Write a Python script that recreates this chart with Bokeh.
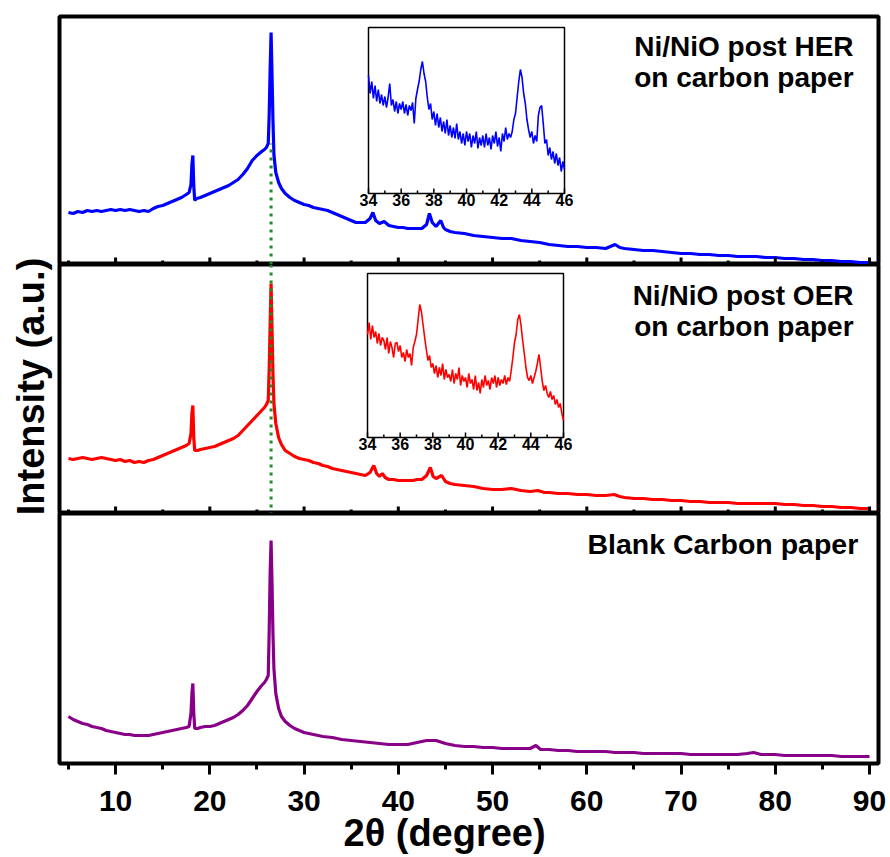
import math
from bokeh.plotting import figure
from bokeh.models import Range1d, SingleIntervalTicker, Label, Span, Title
from bokeh.layouts import column, row
from bokeh.embed import file_html
from bokeh.resources import INLINE
from bokeh.core.properties import value

# ---------------- data (intensity in arbitrary units) ----------------
her_x = [5, 5.5, 6, 6.5, 7, 7.5, 8, 8.5, 9, 9.5,
         10, 10.5, 11, 11.5, 12, 12.5, 13, 13.5, 14, 14.5,
         15, 15.5, 16, 16.5, 17, 17.5, 17.8, 18.0, 18.1, 18.2,
         18.3, 18.4, 18.6, 19, 19.5, 20, 20.5, 21, 21.5, 22,
         22.5, 23, 23.5, 24, 24.5, 25, 25.5, 25.8, 26.0, 26.2,
         26.3, 26.4, 26.5, 26.6, 26.7, 26.8, 27.0, 27.3, 27.6, 28,
         28.5, 29, 29.5, 30, 30.5, 31, 31.5, 32, 32.5, 33,
         33.5, 34, 34.5, 35, 35.5, 36, 36.5, 37, 37.3, 37.6,
         38, 38.5, 39, 39.5, 40, 40.5, 41, 41.5, 42, 42.5,
         43, 43.3, 43.6, 44, 44.5, 44.8, 45, 45.5, 46, 47,
         48, 49, 50, 51, 52, 53, 54, 55, 56, 57,
         58, 59, 60, 61, 62, 63, 63.5, 64, 65, 66,
         67, 68, 69, 70, 71, 72, 73, 74, 75, 76,
         77, 78, 79, 80, 81, 82, 83, 84, 85, 86,
         87, 88, 89, 90]
her_y = [52, 51, 53, 52, 54, 53, 54, 53, 54, 55,
         54, 55, 54, 55, 54, 53, 54, 53, 56, 58,
         59, 61, 63, 65, 67, 70, 72, 80, 100, 109,
         78, 64, 66, 67, 69, 71, 73, 75, 77, 79,
         82, 85, 90, 96, 104, 109, 113, 115, 117, 121,
         150, 195, 232, 190, 144, 110, 92, 82, 76, 71,
         67, 64, 62, 60, 59, 57, 56, 55, 54, 52,
         50, 48, 46, 44, 42, 42, 42, 46, 52, 44,
         41, 43, 39, 38, 37, 37, 36, 36, 36, 36,
         40, 51, 42, 38, 44, 37, 35, 33, 32, 31,
         29, 28, 27, 26, 26, 24, 23, 22, 20, 19,
         18, 18, 17, 17, 16, 20, 17, 16, 15, 14,
         14, 13, 12, 11, 11, 10, 10, 9, 9, 8,
         8, 8, 7, 7, 6, 6, 5, 5, 4, 4,
         3, 3, 2, 2]

oer_x = [5, 5.5, 6, 6.5, 7, 7.5, 8, 8.5, 9, 9.5,
         10, 10.5, 11, 11.5, 12, 12.5, 13, 13.5, 14, 14.5,
         15, 15.5, 16, 16.5, 17, 17.5, 17.8, 18.0, 18.1, 18.2,
         18.3, 18.4, 18.7, 19, 19.5, 20, 20.5, 21, 21.5, 22,
         22.5, 23, 23.5, 24, 24.5, 25, 25.5, 25.8, 26.0, 26.2,
         26.3, 26.4, 26.5, 26.6, 26.7, 26.8, 27.0, 27.3, 27.6, 28,
         28.5, 29, 29.5, 30, 30.5, 31, 31.5, 32, 32.5, 33,
         33.5, 34, 34.5, 35, 35.5, 36, 36.5, 37, 37.4, 37.7,
         38, 38.3, 38.6, 39, 39.5, 40, 40.5, 41, 41.5, 42,
         42.5, 43, 43.4, 43.7, 44, 44.6, 45, 45.5, 46, 47,
         48, 49, 50, 51, 52, 53, 54, 54.8, 55.5, 56,
         57, 58, 59, 60, 61, 62, 62.9, 63.5, 64, 65,
         66, 67, 68, 69, 70, 71, 72, 73, 74, 75,
         76, 77, 78, 79, 80, 81, 82, 83, 84, 85,
         86, 87, 88, 89, 90]
oer_y = [55, 54, 55, 56, 55, 54, 55, 56, 55, 54,
         53, 54, 52, 53, 51, 52, 51, 53, 54, 56,
         58, 60, 62, 64, 66, 68, 70, 80, 100, 108,
         75, 63, 63, 64, 65, 66, 67, 69, 71, 73,
         75, 78, 83, 88, 93, 98, 103, 106, 109, 113,
         145, 190, 230, 185, 140, 110, 90, 76, 69, 63,
         60, 57, 55, 54, 53, 51, 50, 48, 47, 45,
         44, 43, 42, 41, 40, 39, 38, 41, 48, 40,
         37, 40, 36, 34, 34, 33, 33, 33, 33, 34,
         34, 38, 46, 37, 35, 38, 32, 30, 29, 28,
         27, 25, 24, 24, 25, 23, 22, 23, 21, 21,
         20, 20, 19, 19, 18, 18, 19, 17, 16, 15,
         15, 14, 14, 13, 13, 12, 12, 11, 11, 11,
         10, 10, 10, 10, 10, 9, 9, 8, 8, 7,
         7, 6, 6, 5, 5]

blank_x = [5, 5.5, 6, 6.5, 7, 7.5, 8, 8.5, 9, 9.5,
           10, 10.5, 11, 11.5, 12, 12.5, 13, 13.5, 14, 14.5,
           15, 15.5, 16, 16.5, 17, 17.5, 17.8, 18.0, 18.1, 18.2,
           18.3, 18.4, 18.7, 19, 19.5, 20, 20.5, 21, 21.5, 22,
           22.5, 23, 23.5, 24, 24.5, 25, 25.5, 25.8, 26.0, 26.2,
           26.3, 26.4, 26.5, 26.6, 26.7, 26.8, 27.0, 27.3, 27.6, 28,
           28.5, 29, 29.5, 30, 30.5, 31, 31.5, 32, 33, 34,
           35, 36, 37, 38, 39, 40, 41, 42, 43, 44,
           45, 46, 47, 48, 49, 50, 51, 52, 53, 54,
           54.6, 55.1, 56, 57, 58, 59, 60, 61, 62, 63,
           64, 65, 66, 67, 68, 69, 70, 71, 72, 73,
           74, 75, 76, 77, 77.7, 78.5, 79, 80, 81, 82,
           83, 84, 85, 86, 87, 88, 89, 90]
blank_y = [47, 44, 42, 40, 39, 37, 36, 35, 33, 32,
           31, 30, 29, 29, 28, 28, 28, 28, 29, 30,
           31, 32, 33, 34, 35, 36, 37, 50, 70, 80,
           50, 35, 35, 36, 37, 37, 38, 40, 42, 44,
           46, 49, 53, 58, 65, 72, 78, 81, 84, 88,
           133, 190, 223, 180, 130, 95, 70, 55, 47, 42,
           38, 35, 33, 31, 30, 29, 28, 27, 26, 24,
           23, 22, 21, 20, 19, 19, 19, 21, 23, 23,
           20, 18, 17, 17, 16, 16, 15, 15, 15, 15,
           18, 14, 14, 13, 13, 12, 12, 12, 12, 11,
           11, 11, 10, 10, 10, 10, 10, 9, 9, 9,
           9, 9, 9, 10, 11, 9, 9, 9, 8, 8,
           8, 8, 8, 8, 7, 7, 7, 7]

# inset scans (34-46 deg, 0.1 deg step)
her_inset_y = [118, 100, 112, 95, 108, 92, 104, 90, 99, 88,
               97, 86, 96, 110, 88, 94, 82, 92, 80, 90,
               84, 92, 80, 89, 78, 88, 83, 91, 70, 95,
               104, 112, 124, 132, 120, 112, 96, 84, 90, 74,
               82, 68, 80, 66, 76, 62, 72, 60, 74, 58,
               68, 56, 66, 55, 70, 54, 62, 50, 60, 48,
               62, 52, 60, 46, 58, 50, 62, 45, 56, 48,
               58, 46, 60, 48, 56, 44, 58, 50, 62, 47,
               56, 42, 60, 52, 66, 54, 60, 56, 62, 74,
               80, 96, 112, 124, 116, 100, 90, 74, 64, 56,
               62, 50, 58, 52, 78, 86, 88, 70, 50, 54,
               38, 46, 34, 42, 30, 40, 28, 36, 22, 32,
               24]
oer_inset_y = [103, 115, 98, 112, 100, 106, 94, 104, 92, 100,
               97, 88, 100, 84, 96, 90, 80, 94, 95, 86,
               92, 80, 85, 76, 88, 80, 84, 72, 90, 96,
               103, 118, 133, 126, 113, 100, 88, 77, 82, 70,
               74, 64, 72, 60, 70, 62, 74, 58, 68, 60,
               63, 56, 68, 54, 64, 58, 70, 52, 62, 56,
               60, 50, 64, 54, 58, 48, 62, 47, 55, 44,
               58, 50, 62, 52, 57, 48, 60, 54, 62, 50,
               60, 52, 58, 54, 62, 53, 60, 56, 67, 80,
               95, 103, 118, 123, 112, 97, 84, 70, 60, 57,
               62, 54, 60, 66, 74, 83, 70, 56, 47, 52,
               44, 40, 46, 38, 42, 33, 38, 30, 34, 24,
               17]
inset_x = [round(34 + 0.1 * i, 1) for i in range(len(her_inset_y))]

inset_major = [34, 36, 38, 40, 42, 44, 46]
inset_minor = [35, 37, 39, 41, 43, 45]
inset_labels = ["34", "36", "38", "40", "42", "44", "46"]

main_major = [10, 20, 30, 40, 50, 60, 70, 80, 90]
main_minor = [5, 15, 25, 35, 45, 55, 65, 75, 85]

graphite_peak = 26.5      # 2theta of the dotted reference line
ref_line_top = 121        # where the dotted line starts in the top panel

labels_her = ["Ni/NiO post HER", "on carbon paper"]
labels_oer = ["Ni/NiO post OER", "on carbon paper"]
label_blank = "Blank Carbon paper"
x_title = "2\u03b8 (degree)"
y_title = "Intensity (a.u.)"

# ---------------- styling / layout ----------------
FONT = "Liberation Sans"
FRAME_W = 819
YLAB_W = 55
B_LEFT = 4
B_RIGHT = 10
XR = Range1d(4.05, 90.95)
GREEN = "#228B22"


def base_fig(frame_h, top, bottom, xloc):
    p = figure(frame_width=FRAME_W, frame_height=frame_h, x_range=XR,
               y_range=Range1d(0, frame_h), output_backend="svg",
               toolbar_location=None, min_border_left=B_LEFT,
               min_border_right=B_RIGHT, min_border_top=top,
               min_border_bottom=bottom, x_axis_location=xloc,
               y_axis_location=None)
    p.xgrid.visible = False
    p.ygrid.visible = False
    p.outline_line_color = "black"
    p.outline_line_width = 4
    p.outline_line_alpha = 1
    p.background_fill_color = "white"
    p.border_fill_color = "white"
    return p


def inner_ticks(p):
    # ticks along the panel separator, pointing into the panel
    p.segment(x0=main_major, y0=[0] * len(main_major), x1=main_major,
              y1=[7] * len(main_major), line_color="black", line_width=3)
    p.segment(x0=main_minor, y0=[0] * len(main_minor), x1=main_minor,
              y1=[4] * len(main_minor), line_color="black", line_width=3)


def add_inset(p, frame_h, box, ys, color):
    l, r, t, b = box
    ih = frame_h - t - b
    x0, x1 = inset_major[0], inset_major[-1]
    sx = (r - l) / (x1 - x0)
    p.extra_x_ranges = {"ins": Range1d(x0 - l / sx, x1 + (FRAME_W - r) / sx)}
    p.extra_y_ranges = {"ins": Range1d(-b, ih + t)}
    kw = dict(x_range_name="ins", y_range_name="ins")
    p.quad(left=[x0], right=[x1], bottom=[0], top=[ih], fill_color="white",
           line_color="black", line_width=1.5, **kw)
    p.line(inset_x, ys, line_color=color, line_width=1.6, **kw)
    p.segment(x0=inset_major, y0=[0] * len(inset_major), x1=inset_major,
              y1=[5] * len(inset_major), line_color="black", line_width=1.5, **kw)
    p.segment(x0=inset_minor, y0=[0] * len(inset_minor), x1=inset_minor,
              y1=[3] * len(inset_minor), line_color="black", line_width=1.5, **kw)
    p.text(x=inset_major, y=[0] * len(inset_major), text=inset_labels,
           text_align="center", text_baseline="top", y_offset=0,
           text_font=value(FONT), text_font_style="bold", text_font_size="16px",
           text_color="black", **kw)


def add_label(p, text, x, y, size="28px"):
    p.add_layout(Label(x=x, y=y, text=text, text_align="right",
                       text_baseline="alphabetic", text_font=FONT,
                       text_font_size=size, text_font_style="bold",
                       text_color="black"))


# ---- y-axis title column ----
H_YLAB = 770
pl = figure(width=YLAB_W, height=H_YLAB, x_range=Range1d(0, YLAB_W),
            y_range=Range1d(0, H_YLAB), output_backend="svg",
            toolbar_location=None, x_axis_location=None, y_axis_location=None,
            min_border=0)
pl.xgrid.visible = False
pl.ygrid.visible = False
pl.outline_line_color = None
pl.add_layout(Label(x=30, y=H_YLAB - 386, text=y_title, angle=math.pi / 2,
                    text_align="center", text_baseline="middle",
                    text_font=FONT, text_font_size="38px",
                    text_font_style="bold", text_color="black"))

# ---- top panel (post HER) ----
H_TOP = 248
p1 = base_fig(H_TOP, 16, 0, None)
p1.line(her_x, her_y, line_color="#0000FF", line_width=3.2)
p1.segment(x0=[graphite_peak], y0=[0], x1=[graphite_peak], y1=[ref_line_top],
           line_color=GREEN, line_width=3, line_dash="3 5")
inner_ticks(p1)
add_inset(p1, H_TOP, (309, 505, 11, 71), her_inset_y, "#0000FF")
add_label(p1, labels_her[0], 88.3, 218)
add_label(p1, labels_her[1], 88.3, 187)

# ---- middle panel (post OER) ----
H_MID = 249
p2 = base_fig(H_MID, 0, 0, None)
p2.line(oer_x, oer_y, line_color="#FF0000", line_width=3.2)
p2.add_layout(Span(location=graphite_peak, dimension="height", line_color=GREEN,
                   line_width=3, line_dash="3 5"))
inner_ticks(p2)
add_inset(p2, H_MID, (308, 504, 9, 76), oer_inset_y, "#FF0000")
add_label(p2, labels_oer[0], 88.3, 218)
add_label(p2, labels_oer[1], 88.3, 187)

# ---- bottom panel (blank) ----
H_BOT = 250
p3 = base_fig(H_BOT, 0, 92, "below")
xa = p3.xaxis[0]
xa.ticker = SingleIntervalTicker(interval=10, num_minor_ticks=2)
xa.axis_line_color = None
xa.major_tick_line_width = 3
xa.minor_tick_line_width = 3
xa.major_tick_in = 0
xa.major_tick_out = 11
xa.minor_tick_in = 0
xa.minor_tick_out = 6
xa.major_label_text_font = FONT
xa.major_label_text_font_size = "30px"
xa.major_label_text_font_style = "bold"
xa.major_label_text_color = "black"
xa.major_label_standoff = 16
p3.line(blank_x, blank_y, line_color="#880088", line_width=3.2)
add_label(p3, label_blank, 88.8, 220, size="28.5px")
p3.add_layout(Title(text=x_title, align="left", offset=284, standoff=-8,
                    text_font=FONT, text_font_size="38px",
                    text_font_style="bold", text_color="black"), "below")

layout = row(pl, column(p1, p2, p3, spacing=0), spacing=0)
open("out.html", "w").write(file_html(layout, INLINE))
